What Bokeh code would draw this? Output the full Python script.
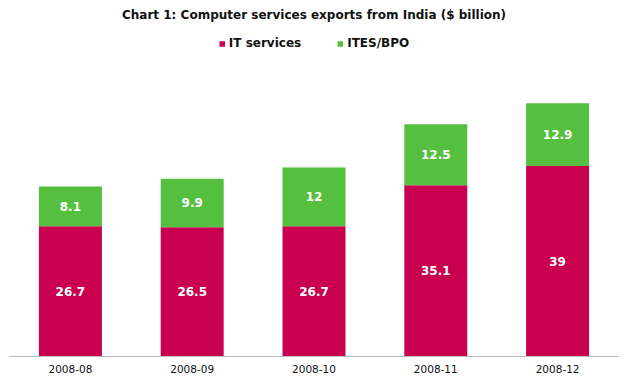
from bokeh.plotting import figure
from bokeh.models import ColumnDataSource, Legend, LegendItem
from bokeh.core.properties import value
from bokeh.embed import file_html
from bokeh.resources import INLINE

months = ["2008-08", "2008-09", "2008-10", "2008-11", "2008-12"]
it_services = [26.7, 26.5, 26.7, 35.1, 39.0]
ites_bpo = [8.1, 9.9, 12.0, 12.5, 12.9]
series_names = ["IT services", "ITES/BPO"]
colors = ["#C8004F", "#55BF3F"]

FONT = "DejaVu Sans"

def fmt(v):
    return ("%g" % v)

src = ColumnDataSource(dict(
    month=months,
    it=it_services,
    bpo=ites_bpo,
    it_mid=[v / 2 for v in it_services],
    bpo_mid=[a + b / 2 for a, b in zip(it_services, ites_bpo)],
    it_lab=[fmt(v) for v in it_services],
    bpo_lab=[fmt(v) for v in ites_bpo],
))

p = figure(x_range=months, y_range=(0, 67.6), width=624, height=377,
           output_backend="svg", toolbar_location=None,
           min_border_left=9, min_border_right=6, min_border_top=0, min_border_bottom=21)

r1 = p.vbar_stack(["it", "bpo"], x="month", width=0.517, source=src,
                  color=colors, line_color=None)

for ycol, tcol in (("it_mid", "it_lab"), ("bpo_mid", "bpo_lab")):
    p.text(x="month", y=ycol, text=tcol, source=src, text_color="white",
           text_font=value(FONT), text_font_style="bold",
           text_font_size="12px", text_align="center", text_baseline="middle")

p.title.text = "Chart 1: Computer services exports from India ($ billion)"
p.title.align = "center"
p.title.text_font = FONT
p.title.text_font_size = "12px"
p.title.text_font_style = "bold"
p.title.text_color = "#111111"

legend = Legend(items=[LegendItem(label=series_names[0], renderers=[r1[0]]),
                       LegendItem(label=series_names[1], renderers=[r1[1]])],
                orientation="horizontal", location="top_center",
                label_text_font=FONT, label_text_font_style="bold",
                label_text_font_size="12px", label_text_color="#111111",
                glyph_width=7, glyph_height=7, label_standoff=4, spacing=35,
                background_fill_alpha=0, border_line_alpha=0, margin=10, padding=0)
p.add_layout(legend, "center")

p.yaxis.visible = False
p.xgrid.visible = False
p.ygrid.visible = False
p.outline_line_color = None
p.xaxis.axis_line_color = "#BBBBBB"
p.xaxis.major_tick_line_color = None
p.xaxis.minor_tick_line_color = None
p.xaxis.major_label_text_font = FONT
p.xaxis.major_label_text_font_size = "10.5px"
p.xaxis.major_label_text_color = "#111111"
p.xaxis.major_label_standoff = 2
p.x_range.range_padding = 0

open("out.html", "w").write(file_html(p, INLINE))
